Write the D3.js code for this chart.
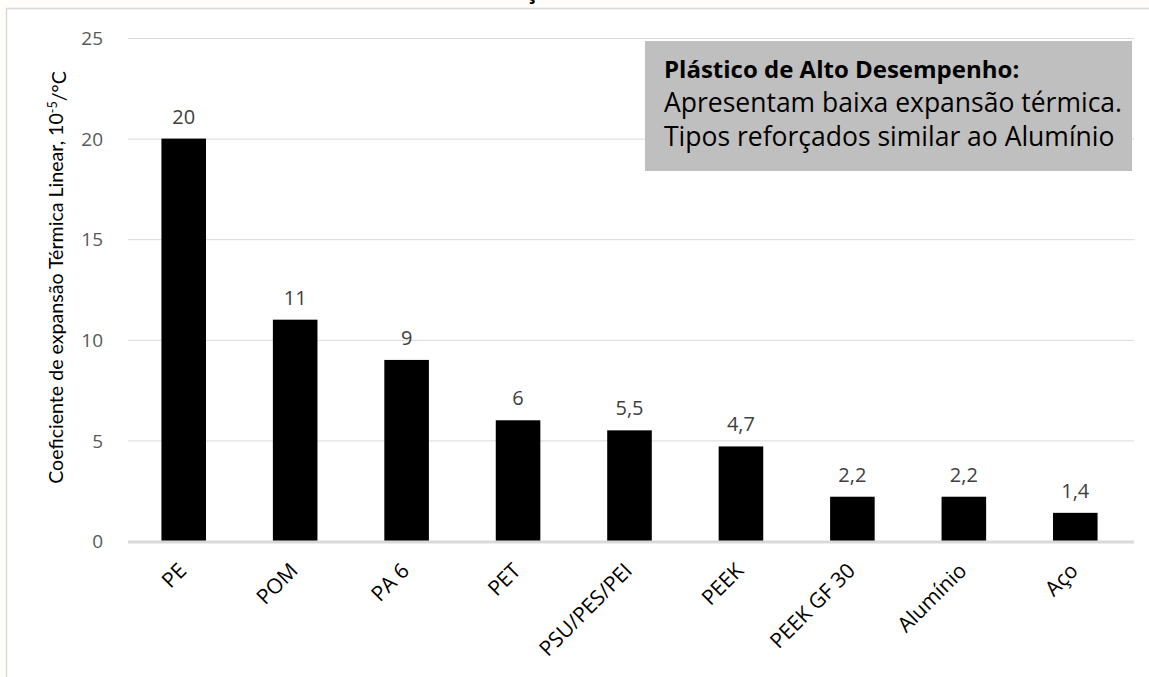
<!DOCTYPE html>
<html>
<head>
<meta charset="utf-8">
<script src="https://cdn.jsdelivr.net/npm/d3@7"></script>
<style>
  body { margin: 0; background: #fffdfa; }
  svg { display: block; font-family: "Open Sans", sans-serif; }
</style>
</head>
<body>
<svg id="drawing_region"></svg>
<script>
// data
const categories = ["PE", "POM", "PA 6", "PET", "PSU/PES/PEI", "PEEK", "PEEK GF 30", "Alumínio", "Aço"];
const values = [20, 11, 9, 6, 5.5, 4.7, 2.2, 2.2, 1.4];
const valueLabels = ["20", "11", "9", "6", "5,5", "4,7", "2,2", "2,2", "1,4"];
const yTicks = [0, 5, 10, 15, 20, 25];
const noteLines = ["Plástico de Alto Desempenho:", "Apresentam baixa expansão térmica.", "Tipos reforçados similar ao Alumínio"];

const W = 1149, H = 677;
const margin = { left: 128, right: 18, top: 38, bottom: 136 };
const font = '"Open Sans", sans-serif';

const svg = d3.select('#drawing_region')
    .attr('width', W)
    .attr('height', H);

// chart area with border
svg.append('rect')
    .attr('x', 6.5).attr('y', 8.5)
    .attr('width', W + 10).attr('height', H + 10)
    .attr('fill', 'white')
    .attr('stroke', '#d9d9d9')
    .attr('stroke-width', 1.5);

// title, mostly above the visible area
svg.append('text')
    .attr('x', 478).attr('y', -1)
    .attr('text-anchor', 'middle')
    .style('font-size', '22px')
    .style('font-weight', 'bold')
    .text('Coeficiente de Dilatação Térmica');

const x = d3.scaleBand()
    .domain(categories)
    .range([margin.left, W - margin.right])
    .paddingInner(0.6)
    .paddingOuter(0.3);

const y = d3.scaleLinear()
    .domain([0, 25])
    .range([H - margin.bottom, margin.top]);

// gridlines
svg.append('g')
    .selectAll('line')
    .data(yTicks.filter(d => d > 0))
    .enter()
    .append('line')
    .attr('x1', margin.left).attr('x2', W - margin.right + 3)
    .attr('y1', d => y(d) + 0.5).attr('y2', d => y(d) + 0.5)
    .attr('stroke', '#d9d9d9')
    .attr('stroke-width', 1);

// y axis labels
const yAxis = svg.append('g')
    .attr('transform', `translate(${margin.left - 25},0)`)
    .call(d3.axisLeft(y).tickValues(yTicks).tickSize(0).tickPadding(0));
yAxis.select('.domain').remove();
yAxis.selectAll('text')
    .style('font-family', font)
    .style('font-size', '19px')
    .attr('fill', '#595959')
    .attr('dy', '0.35em');

// bars
svg.append('g')
    .selectAll('rect')
    .data(values)
    .enter()
    .append('rect')
    .attr('x', (d, i) => x(categories[i]))
    .attr('width', x.bandwidth())
    .attr('y', d => y(d))
    .attr('height', d => y(0) - y(d))
    .attr('fill', 'black');

// zero line
svg.append('line')
    .attr('x1', margin.left).attr('x2', W - margin.right + 3)
    .attr('y1', y(0) + 1).attr('y2', y(0) + 1)
    .attr('stroke', '#d9d9d9')
    .attr('stroke-width', 3);

// value labels
svg.append('g')
    .selectAll('text')
    .data(values)
    .enter()
    .append('text')
    .attr('x', (d, i) => x(categories[i]) + x.bandwidth() / 2)
    .attr('y', d => y(d) - 15)
    .attr('text-anchor', 'middle')
    .attr('fill', '#404040')
    .style('font-size', '20px')
    .text((d, i) => valueLabels[i]);

// x axis labels, rotated
const xAxis = svg.append('g')
    .attr('transform', `translate(0,${y(0)})`)
    .call(d3.axisBottom(x).tickSize(0).tickPadding(0));
xAxis.select('.domain').remove();
xAxis.selectAll('text')
    .style('font-family', font)
    .style('font-size', '21px')
    .attr('fill', 'black')
    .attr('text-anchor', 'end')
    .attr('x', 0).attr('y', 0).attr('dy', 0)
    .attr('transform', 'translate(4,31) rotate(-45)');

// y axis title
const yt = svg.append('text')
    .attr('transform', `translate(63,${(y(0) + y(25)) / 2 - 12}) rotate(-90)`)
    .attr('text-anchor', 'middle')
    .style('font-family', 'Lato, sans-serif')
    .style('font-size', '19.6px')
    .attr('fill', 'black');
yt.append('tspan').text('Coeficiente de expansão Térmica Linear, 10');
yt.append('tspan').attr('dy', '-0.45em').style('font-size', '12.5px').text('-5');
yt.append('tspan').attr('dy', '0.45em').text('/°C');

// note box
const box = svg.append('g').attr('transform', 'translate(645,41)');
box.append('rect')
    .attr('width', 487).attr('height', 130)
    .attr('fill', '#bfbfbf');
box.selectAll('text')
    .data(noteLines)
    .enter()
    .append('text')
    .attr('x', 19)
    .attr('y', (d, i) => 37 + i * 34)
    .style('font-size', (d, i) => i === 0 ? '24px' : '26.5px')
    .style('font-weight', (d, i) => i === 0 ? 'bold' : 'normal')
    .attr('fill', 'black')
    .text(d => d);
</script>
</body>
</html>
